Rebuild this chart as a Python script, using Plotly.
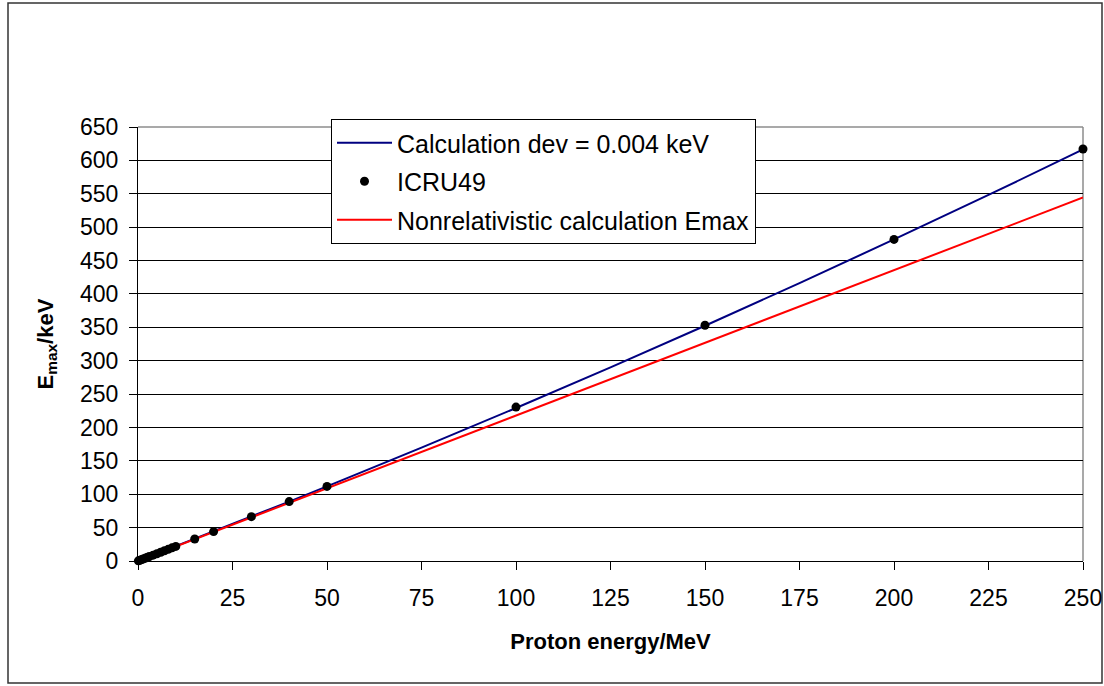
import plotly.graph_objects as go

# proton energy (MeV) and maximum energy transfer (keV)
calc_energy = [0, 1, 2, 5, 10, 15, 20, 30, 40, 50, 75, 100, 125, 150, 175, 200, 225, 250]
calc_emax = [0, 2.2, 4.4, 10.9, 21.9, 33.0, 44.0, 66.4, 89.0, 111.7, 169.7, 229.2,
             290.1, 352.4, 416.2, 481.6, 548.2, 616.3]

icru_energy = [0.1, 0.5, 1, 1.5, 2, 2.5, 3, 4, 5, 6, 7, 8, 9, 10,
               15, 20, 30, 40, 50, 100, 150, 200, 250]
icru_emax = [0.2, 1.1, 2.2, 3.3, 4.4, 5.5, 6.6, 8.7, 10.9, 13.1, 15.3, 17.5, 19.7, 21.9,
             33.0, 44.0, 66.4, 89.0, 111.7, 230.5, 353.0, 481.6, 617.0]

nonrel_energy = [0, 50, 100, 150, 200, 250]
nonrel_emax = [0, 108.9, 217.8, 326.7, 435.6, 544.5]

x_ticks = list(range(0, 251, 25))
y_ticks = list(range(0, 651, 50))

FONT = "Liberation Sans, Arial, sans-serif"

fig = go.Figure()
fig.add_trace(go.Scatter(x=calc_energy, y=calc_emax, mode="lines",
                         name="Calculation dev = 0.004 keV",
                         line=dict(color="#000080", width=2),
                         legendgroup="a", legendrank=1))
fig.add_trace(go.Scatter(x=nonrel_energy, y=nonrel_emax, mode="lines",
                         name="Nonrelativistic calculation Emax",
                         line=dict(color="#ff0000", width=2),
                         legendgroup="c", legendrank=3))
fig.add_trace(go.Scatter(x=icru_energy, y=icru_emax, mode="markers",
                         name="ICRU49", cliponaxis=False,
                         marker=dict(color="black", size=9),
                         legendgroup="b", legendrank=2))

# plot area: x 138..1083, y 127..561 (pixels)
L, R, T, B = 138, 1083, 127, 561
W, H = R - L, B - T

def px(x):
    return (x - L) / W

def py(y):
    return (B - y) / H

fig.update_layout(
    width=1104, height=686,
    margin=dict(l=L, r=1104 - R, t=T, b=686 - B),
    paper_bgcolor="white", plot_bgcolor="white",
    font=dict(family=FONT, color="black", size=23),
    showlegend=True,
    legend=dict(x=px(331), y=py(119), xanchor="left", yanchor="top",
                bgcolor="white", bordercolor="black", borderwidth=1,
                font=dict(size=25), traceorder="grouped", tracegroupgap=3,
                itemwidth=55),
    xaxis=dict(range=[0, 250], tickvals=x_ticks, ticks="outside", ticklen=8,
               tickcolor="black", showline=True, linecolor="black", linewidth=1,
               showgrid=False, zeroline=False, tickfont=dict(size=23),
               ticklabelstandoff=8, automargin=False,
               title=dict(text="Proton energy/MeV", standoff=24,
                          font=dict(size=22, weight="bold"))),
    yaxis=dict(range=[0, 650], tickvals=y_ticks, ticks="outside", ticklen=8,
               tickcolor="black", showline=True, linecolor="black", linewidth=1,
               showgrid=True, gridcolor="black", gridwidth=1, zeroline=False,
               tickfont=dict(size=23), ticklabelstandoff=6, automargin=False,
               title=dict(text="E<sub>max</sub>/keV", standoff=20,
                          font=dict(size=22, weight="bold"))),
)

# gray top and right borders of the plot area
fig.add_shape(type="line", xref="paper", yref="paper", x0=0, x1=1, y0=1, y1=1,
              line=dict(color="#8c8c8c", width=1.5), layer="above")
fig.add_shape(type="line", xref="paper", yref="paper", x0=1, x1=1, y0=0, y1=1,
              line=dict(color="#8c8c8c", width=1.5), layer="below")
# outer frame of the chart
fig.add_shape(type="rect", xref="paper", yref="paper",
              x0=px(8), x1=px(1102), y0=py(683), y1=py(3),
              line=dict(color="#333333", width=1.5), layer="below")

# the page body has a default 8px margin; remove it so the figure sits at 0,0
fig.write_html("out.html", config={"displayModeBar": False},
               post_script="document.body.style.margin='0';"
                           "document.body.style.overflow='hidden';")
